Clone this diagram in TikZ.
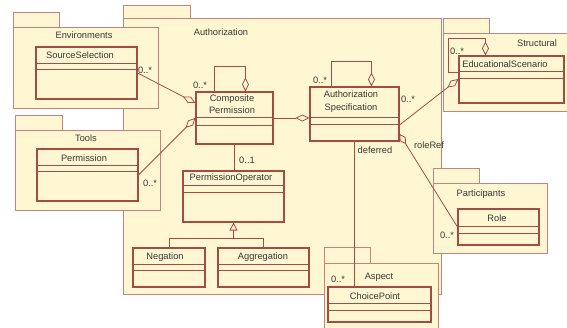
\documentclass[tikz,border=0pt]{standalone}
\usepackage{fontspec}
\setmainfont{Liberation Sans}
\usetikzlibrary{arrows.meta}
\definecolor{pkg}{RGB}{200, 130, 125}
\definecolor{cls}{RGB}{165, 75, 70}
\definecolor{bg}{RGB}{255, 247, 210}
\definecolor{txt}{RGB}{55, 55, 55}

\begin{document}
\begin{tikzpicture}[x=1pt, y=-1pt,
    package/.style={draw=pkg, fill=bg, line width=0.9pt},
    umlclass/.style={draw=cls, fill=bg, line width=1.1pt, inner sep=0pt},
    compart/.style={draw=cls, line width=0.9pt},
    assoc/.style={draw=cls, line width=0.8pt},
    aggr/.style={assoc, -{Diamond[open, length=14pt, width=7pt]}},
    lbl/.style={text=txt, font=\fontsize{9.3}{12.5}\selectfont, inner sep=0pt, align=center}]
      \useasboundingbox (0, 0) rectangle (567, 328);
      % packages
      \draw[package] (123, 5) rectangle (190, 18);
      \draw[package] (123, 18) rectangle (441, 294);
      \node[lbl] (authlbl) at (221, 32) {Authorization};
      \draw[package] (13, 12) rectangle (59, 27);
      \draw[package] (13, 27) rectangle (158, 108);
      \node[lbl] (envlbl) at (84, 35) {Environments};
      \draw[package] (15, 115) rectangle (62, 130);
      \draw[package] (15, 130) rectangle (160, 210);
      \node[lbl] (toollbl) at (86, 138) {Tools};
      \draw[package] (443, 18) rectangle (489, 33);
      \draw[package] (443, 33) rectangle (568, 111);
      \node[lbl] (structlbl) at (537, 43) {Structural};
      \draw[package] (433, 168) rectangle (479, 183);
      \draw[package] (433, 183) rectangle (547, 253);
      \node[lbl] (partlbl) at (481, 194) {Participants};
      \draw[package] (324, 247) rectangle (370, 263);
      \draw[package] (324, 263) rectangle (438, 340);
      \node[lbl] (asplbl) at (379, 277) {Aspect};

      % classes
      \node[umlclass, minimum width=101pt, minimum height=52pt] (ss) at (86.5, 73) {};
      \draw[compart] (36, 63)--(137, 63) (36, 69)--(137, 69);
      \node[lbl] (sstxt) at (80, 55) {SourceSelection};
      \node[umlclass, minimum width=101pt, minimum height=52pt] (pm) at (87.5, 175) {};
      \draw[compart] (37, 165)--(138, 165) (37, 171)--(138, 171);
      \node[lbl] (pmtxt) at (84, 158) {Permission};
      \node[umlclass, minimum width=77pt, minimum height=52pt] (cp) at (234.5, 118) {};
      \draw[compart] (196, 117)--(273, 117) (196, 125)--(273, 125);
      \node[lbl] (cptxt) at (232, 104) {Composite\\Permission};
      \node[umlclass, minimum width=89pt, minimum height=54pt] (as) at (354.5, 114) {};
      \draw[compart] (310, 117)--(399, 117) (310, 124)--(399, 124);
      \node[lbl] (astxt) at (351, 101.5) {Authorization\\Specification};
      \node[umlclass, minimum width=101pt, minimum height=51pt] (po) at (233.5, 196.5) {};
      \draw[compart] (183, 185)--(284, 185) (183, 192)--(284, 192);
      \node[lbl] (potxt) at (231, 178) {PermissionOperator};
      \node[umlclass, minimum width=72pt, minimum height=39pt] (ng) at (169, 267.5) {};
      \draw[compart] (133, 264)--(205, 264) (133, 270)--(205, 270);
      \node[lbl] (ngtxt) at (165, 257) {Negation};
      \node[umlclass, minimum width=91pt, minimum height=39pt] (ag) at (263.5, 267.5) {};
      \draw[compart] (218, 264)--(309, 264) (218, 270)--(309, 270);
      \node[lbl] (agtxt) at (263, 257) {Aggregation};
      \node[umlclass, minimum width=103pt, minimum height=35pt] (cpt) at (379.5, 304.5) {};
      \draw[compart] (328, 303)--(431, 303) (328, 310)--(431, 310);
      \node[lbl] (cpttxt) at (375, 296) {ChoicePoint};
      \node[umlclass, minimum width=105pt, minimum height=47pt] (es) at (511.5, 79.5) {};
      \draw[compart] (459, 71)--(564, 71) (459, 78)--(564, 78);
      \node[lbl] (estxt) at (505, 64) {EducationalScenario};
      \node[umlclass, minimum width=81pt, minimum height=36pt] (rl) at (498.5, 227) {};
      \draw[compart] (458, 226)--(539, 226) (458, 233)--(539, 233);
      \node[lbl] (rltxt) at (497, 218) {Role};

      % connectors
      \draw[aggr] (ss.east) -- ([yshift=15pt]cp.west);
      \draw[aggr] (pm.east) -- (cp.west);
      \draw[aggr] ([xshift=19pt]cp.north west) -- ++(0, -25) -| ([xshift=50pt]cp.north west);
      \draw[aggr] ([xshift=22pt]as.north west) -- ++(0, -25) -| ([xshift=62pt]as.north west);
      \draw[aggr] (cp.east) -- (as.west |- cp.east);
      \draw[assoc] (cp.south) -- (cp.south |- po.north);
      \coordinate (gen) at ([yshift=-16pt]po.south);
      \draw[assoc] (ng.north) |- (gen) -| (ag.north);
      \draw[assoc, -{Triangle[open, length=8pt, width=8pt]}] (gen) -- (po.south);
      \draw[assoc] (as.south) -- (as.south |- cpt.north);
      \draw[aggr] ([yshift=-11pt]as.east) -- ([yshift=0.5pt]es.west);
      \draw[aggr] ([yshift=7.5pt]es.west) -| ++(-10, -34) -| ([xshift=27pt]es.north west);
      \draw[assoc, {Diamond[open, length=12pt, width=7pt]}-] ([yshift=-20pt]as.east) -- (rl.west);

      % multiplicities and roles
      \node[lbl] (m1) at (145, 70) {0..*};
      \node[lbl] (m2) at (150, 183) {0..*};
      \node[lbl] (m3) at (200, 85) {0..*};
      \node[lbl] (m4) at (320, 80) {0..*};
      \node[lbl] (m5) at (247, 160) {0..1};
      \node[lbl] (m6) at (408, 99) {0..*};
      \node[lbl] (m7) at (447, 235) {0..*};
      \node[lbl] (m8) at (338, 279) {0..*};
      \node[lbl] (m9) at (457, 51) {0..*};
      \node[lbl] (rref) at (429, 145) {roleRef};
      \node[lbl] (defr) at (375, 150) {deferred};
    \end{tikzpicture}
\end{document}
